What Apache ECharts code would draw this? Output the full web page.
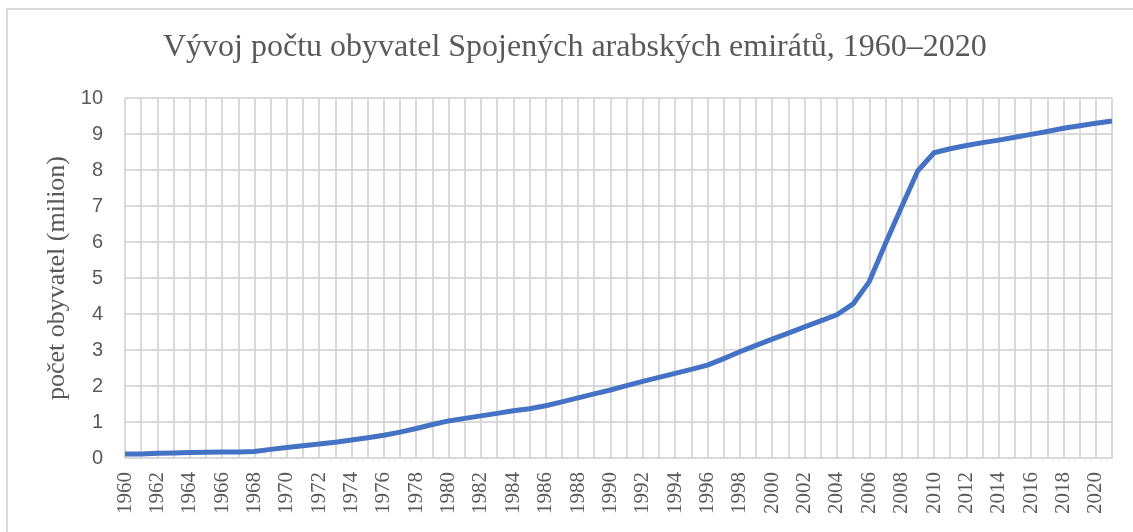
<!DOCTYPE html>
<html>
<head>
<meta charset="utf-8">
<script src="https://cdn.jsdelivr.net/npm/echarts@6/dist/echarts.min.js"></script>
<style>
    html, body {margin: 0; padding: 0; background: #fff;}
    #chart {width: 1133px; height: 532px;}
</style>
</head>
<body>
<div id="chart"></div>
<script>
// roky 1960–2021
const years = [];
for (let y = 1960; y <= 2021; y++) years.push(String(y));

// počet obyvatel v milionech
const population = [
    0.11, 0.11, 0.13, 0.14, 0.15, 0.16, 0.17, 0.17, 0.18, 0.24,
    0.29, 0.34, 0.39, 0.44, 0.50, 0.56, 0.63, 0.72, 0.82, 0.93,
    1.03, 1.10, 1.17, 1.24, 1.31, 1.37, 1.45, 1.56, 1.67, 1.78,
    1.89, 2.01, 2.13, 2.24, 2.35, 2.46, 2.58, 2.76, 2.95, 3.13,
    3.30, 3.47, 3.64, 3.81, 3.98, 4.28, 4.90, 5.96, 6.98, 7.98,
    8.48, 8.59, 8.68, 8.76, 8.83, 8.91, 8.99, 9.07, 9.16, 9.23,
    9.30, 9.36
];

const yTicks = [0, 1, 2, 3, 4, 5, 6, 7, 8, 9, 10];

const chart = echarts.init(document.getElementById('chart'));

let option = {
    backgroundColor: '#fff',
    animation: false,
    title: {
        text: 'Vývoj počtu obyvatel Spojených arabských emirátů, 1960–2020',
        left: 158,
        top: 27,
        textStyle: {
            fontFamily: 'Liberation Serif',
            fontWeight: 'normal',
            fontSize: 32,
            color: '#595959'
        }
    },
    graphic: [{
        type: 'rect',
        shape: {x: 7, y: 9, width: 1200, height: 600},
        style: {fill: 'none', stroke: '#d9d9d9', lineWidth: 2}
    }],
    grid: {left: 125, right: 21, top: 98, bottom: 74},
    xAxis: {
        type: 'category',
        data: years,
        boundaryGap: false,
        axisLine: {lineStyle: {color: '#d9d9d9', width: 2}},
        axisTick: {show: false},
        axisLabel: {
            interval: 1,
            rotate: 90,
            margin: 14,
            fontFamily: 'Liberation Serif',
            fontSize: 21,
            color: '#595959'
        },
        splitLine: {show: true, interval: 0, lineStyle: {color: '#d9d9d9', width: 2}}
    },
    yAxis: {
        type: 'value',
        min: yTicks[0],
        max: yTicks[yTicks.length - 1],
        interval: 1,
        name: 'počet obyvatel (milion)',
        nameLocation: 'middle',
        nameGap: 52,
        nameTextStyle: {
            fontFamily: 'Liberation Serif',
            fontSize: 26,
            color: '#595959'
        },
        axisLine: {show: false},
        axisTick: {show: false},
        axisLabel: {
            margin: 22,
            fontFamily: 'Liberation Sans',
            fontSize: 20,
            color: '#595959'
        },
        splitLine: {lineStyle: {color: '#d9d9d9', width: 2}}
    },
    series: [{
        name: 'počet obyvatel',
        type: 'line',
        data: population,
        symbol: 'none',
        lineStyle: {color: '#4472c4', width: 5, join: 'round'}
    }]
};

chart.setOption(option);
</script>
</body>
</html>
